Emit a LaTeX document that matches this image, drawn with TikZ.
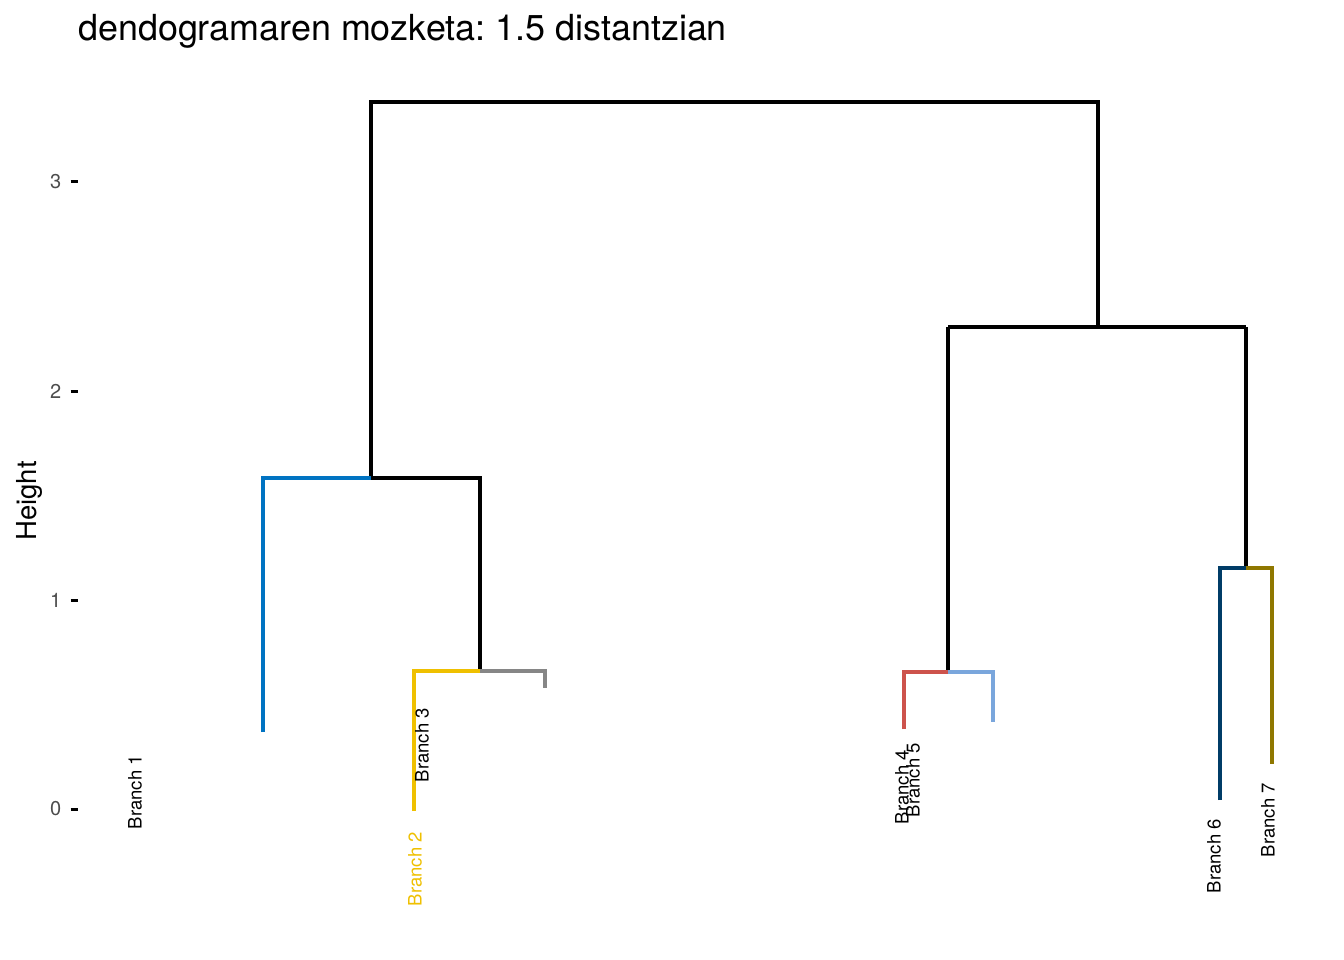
\documentclass[tikz,border=0pt]{standalone}
\usepackage{fontspec}
\setmainfont{TeX Gyre Heros}
\frenchspacing
\definecolor{jblue}{HTML}{0073C2}
\definecolor{jyellow}{HTML}{EFC000}
\definecolor{jgray}{HTML}{868686}
\definecolor{jred}{HTML}{CD534C}
\definecolor{jlblue}{HTML}{7AA6DC}
\definecolor{jdblue}{HTML}{003C67}
\definecolor{jolive}{HTML}{8F7700}
\definecolor{tickgray}{HTML}{4D4D4D}
\begin{document}
\begin{tikzpicture}[x=1pt,y=-1pt,
  branch/.style={line width=3.4pt, line cap=butt, line join=miter},
  leaflabel/.style={rotate=90, anchor=east, inner sep=0pt, font=\fontsize{18.5}{20}\selectfont},
  ticklabel/.style={anchor=east, inner sep=0pt, text=tickgray, font=\fontsize{20}{22}\selectfont},
  tickmark/.style={line width=3pt, line cap=butt}]
\useasboundingbox (0,0) rectangle (1344,960);
\fill[white] (0,0) rectangle (1344,960);

% title
\node[anchor=base west, inner sep=0pt, font=\fontsize{35.9}{40}\selectfont] (title) at (78,41) {dendogramaren mozketa: 1.5 distantzian};

% y axis
\node[rotate=90, anchor=base, inner sep=0pt, font=\fontsize{27.5}{30}\selectfont] (ylab) at (36,501) {Height};
\foreach \v/\y in {0/809,1/600,2/391,3/182}{
  \coordinate (t\v a) at (70.5,\y);
  \coordinate (t\v b) at (78,\y);
  \draw[tickmark] (t\v a) -- (t\v b);
  \node[ticklabel] (tl\v) at (61.5,\y) {\v};
}

% dendrogram coordinates
\coordinate (root) at (734,102);
\coordinate (rootL) at (371,102);
\coordinate (rootR) at (1098,102);
\coordinate (nL) at (371,478);
\coordinate (nLa) at (263,478);
\coordinate (nLb) at (480,478);
\coordinate (leaf1) at (263,732);
\coordinate (n23) at (480,671);
\coordinate (n23a) at (414,671);
\coordinate (n23b) at (545,671);
\coordinate (leaf2) at (414,811);
\coordinate (leaf3) at (545,688);
\coordinate (nR) at (1098,327);
\coordinate (nRa) at (948,327);
\coordinate (nRb) at (1246,327);
\coordinate (n45) at (948,672);
\coordinate (n45a) at (904,672);
\coordinate (n45b) at (993,672);
\coordinate (leaf4) at (904,729);
\coordinate (leaf5) at (993,722);
\coordinate (n67) at (1246,568);
\coordinate (n67a) at (1220,568);
\coordinate (n67b) at (1272,568);
\coordinate (leaf6) at (1220,800);
\coordinate (leaf7) at (1272,764);

% black skeleton
\draw[branch, black] (nL) -- (rootL) -- (rootR) -- (nR);
\draw[branch, black] (nRa) -- (nRb);
\draw[branch, black] (n45) -- (nRa);
\draw[branch, black] (n67) -- (nRb);
\draw[branch, black] (nL) -- (nLb) -- (n23);

% coloured clusters
\draw[branch, jblue] (leaf1) -- (nLa) -- (nL);
\draw[branch, jyellow] (leaf2) -- (n23a) -- (n23);
\draw[branch, jgray] (n23) -- (n23b) -- (leaf3);
\draw[branch, jred] (leaf4) -- (n45a) -- (n45);
\draw[branch, jlblue] (n45) -- (n45b) -- (leaf5);
\draw[branch, jdblue] (leaf6) -- (n67a) -- (n67);
\draw[branch, jolive] (n67) -- (n67b) -- (leaf7);

% leaf labels
\node[leaflabel] (lb1) at (135,755) {Branch 1};
\node[leaflabel, text=jyellow] (lb2) at (415,832) {Branch 2};
\node[leaflabel] (lb3) at (422,708) {Branch 3};
\node[leaflabel] (lb4) at (902,750) {Branch 4};
\node[leaflabel] (lb5) at (913,743) {Branch 5};
\node[leaflabel] (lb6) at (1214,819) {Branch 6};
\node[leaflabel] (lb7) at (1268,783) {Branch 7};
\end{tikzpicture}
\end{document}
